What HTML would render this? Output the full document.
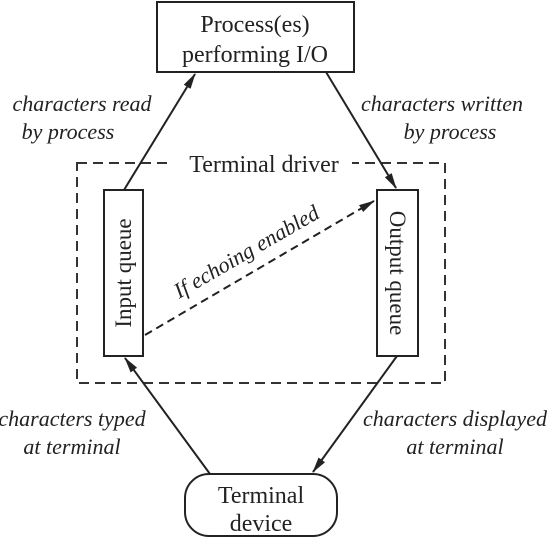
<!DOCTYPE html>
<html><head><style>body{margin:0;background:#fff}</style></head><body>
<svg width="549" height="538" viewBox="0 0 549 538" xmlns="http://www.w3.org/2000/svg" font-family="Liberation Serif, serif" fill="#222">
<defs><marker id="a" markerWidth="16" markerHeight="8" refX="15" refY="4" orient="auto" markerUnits="userSpaceOnUse"><path d="M0,0 L16,4 L0,8 Z" fill="#222"/></marker></defs>
<rect x="157" y="2" width="197" height="70" fill="none" stroke="#222" stroke-width="2"/>
<text x="255" y="32" font-size="24" text-anchor="middle">Process(es)</text>
<text x="255" y="62" font-size="24" text-anchor="middle">performing I/O</text>
<rect x="77" y="163" width="368" height="220" fill="none" stroke="#333" stroke-width="2" stroke-dasharray="10,6"/>
<rect x="170" y="150" width="182" height="24" fill="#fff"/>
<text x="264" y="172" font-size="24" text-anchor="middle">Terminal driver</text>
<rect x="104" y="190" width="39" height="166" fill="#fff" stroke="#222" stroke-width="2"/>
<rect x="377" y="190" width="41" height="166" fill="#fff" stroke="#222" stroke-width="2"/>
<text transform="translate(131,273) rotate(-90)" font-size="23" text-anchor="middle">Input queue</text>
<text transform="translate(390,273) rotate(90)" font-size="23" text-anchor="middle">Output queue</text>
<rect x="185" y="474" width="152" height="62" rx="24" fill="none" stroke="#222" stroke-width="2"/>
<text x="261" y="503" font-size="24" text-anchor="middle">Terminal</text>
<text x="261" y="531" font-size="24" text-anchor="middle">device</text>
<g stroke="#222" stroke-width="2" fill="none">
<line x1="124" y1="190" x2="195" y2="74" marker-end="url(#a)"/>
<line x1="326" y1="72" x2="396" y2="188" marker-end="url(#a)"/>
<line x1="210" y1="474" x2="125" y2="358" marker-end="url(#a)"/>
<line x1="397" y1="356" x2="313" y2="472" marker-end="url(#a)"/>
<line x1="145" y1="335" x2="374" y2="201" stroke-dasharray="8,5" marker-end="url(#a)"/>
</g>
<g font-style="italic" font-size="22" text-anchor="middle">
<text x="82" y="111">characters read</text>
<text x="68" y="139">by process</text>
<text x="442" y="111">characters written</text>
<text x="450" y="139">by process</text>
<text x="72" y="426">characters typed</text>
<text x="72" y="454">at terminal</text>
<text x="455" y="426">characters displayed</text>
<text x="455" y="454">at terminal</text>
<text transform="translate(250,258) rotate(-30)">If echoing enabled</text>
</g>
</svg>
</body></html>
